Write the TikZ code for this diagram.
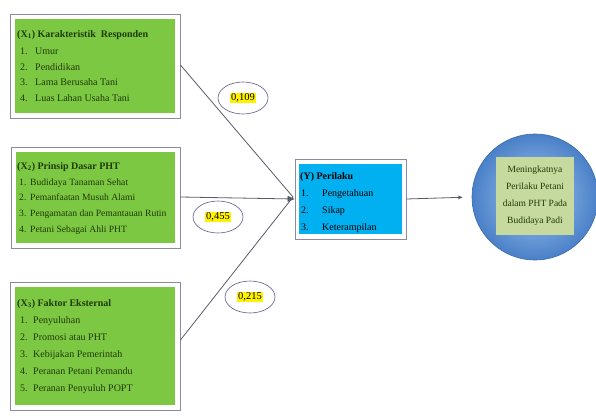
\documentclass[tikz,border=0pt]{standalone}
\usepackage{fontspec}
\setmainfont{Liberation Serif}
\usetikzlibrary{shapes.geometric,arrows.meta}
\definecolor{boxgreen}{HTML}{7DC843}
\definecolor{boxblue}{HTML}{00B0F0}
\definecolor{txtgreen}{HTML}{1E3A08}
\definecolor{framegray}{HTML}{8A8A9E}
\definecolor{linegray}{HTML}{5A5A66}
\definecolor{ellborder}{HTML}{5A5A8A}
\definecolor{circin}{HTML}{A2C8F0}
\definecolor{circout}{HTML}{4A80C8}
\definecolor{innergreen}{HTML}{C6D99E}
\begin{document}
\begin{tikzpicture}[x=1pt,y=-1pt,
  frame/.style={draw=framegray, line width=0.9pt, fill=white, inner sep=0pt},
  lbl/.style={anchor=base west, inner sep=0pt, font=\fontsize{10}{11}\selectfont, text=txtgreen},
  ttl/.style={lbl, font=\fontsize{10}{11}\selectfont\bfseries},
  sml/.style={font=\fontsize{9.6}{11}\selectfont},
  conn/.style={draw=linegray, line width=0.8pt},
  coef/.style={ellipse, draw=ellborder, line width=0.6pt, minimum width=50pt, minimum height=32pt, inner sep=0pt},
  hl/.style={fill=yellow, inner sep=1pt, font=\fontsize{10.5}{11}\selectfont}
]
\useasboundingbox (0,0) rectangle (596,415);

% Box X1
\node[frame, minimum width=170pt, minimum height=104pt] (x1) at (95,66) {};
\fill[boxgreen] ([shift={(5,5)}]x1.north west) rectangle ([shift={(-5,-5)}]x1.south east);
\node[ttl] (x1t) at (17,37) {(X\textsubscript{1}) Karakteristik\ \ Responden};
\node[lbl] (x1n1) at (20,54) {1.}; \node[lbl] (x1a) at (35,54) {Umur};
\node[lbl] (x1n2) at (20,70) {2.}; \node[lbl] (x1b) at (35,70) {Pendidikan};
\node[lbl] (x1n3) at (20,85) {3.}; \node[lbl] (x1c) at (35,85) {Lama Berusaha Tani};
\node[lbl] (x1n4) at (20,101) {4.}; \node[lbl] (x1d) at (35,101) {Luas Lahan Usaha Tani};

% Box X2
\node[frame, minimum width=169pt, minimum height=101pt] (x2) at (95.5,197.5) {};
\fill[boxgreen] ([shift={(5,5)}]x2.north west) rectangle ([shift={(-5,-5)}]x2.south east);
\node[ttl] (x2t) at (17,169) {(X\textsubscript{2}) Prinsip Dasar PHT};
\node[lbl, sml] (x2n1) at (19,185) {1.}; \node[lbl, sml] (x2a) at (30,185) {Budidaya Tanaman Sehat};
\node[lbl, sml] (x2n2) at (19,200) {2.}; \node[lbl, sml] (x2b) at (30,200) {Pemanfaatan Musuh Alami};
\node[lbl, sml] (x2n3) at (19,216) {3.}; \node[lbl, sml] (x2c) at (30,216) {Pengamatan dan Pemantauan Rutin};
\node[lbl, sml] (x2n4) at (19,232) {4.}; \node[lbl, sml] (x2d) at (30,232) {Petani Sebagai Ahli PHT};

% Box X3
\node[frame, minimum width=170pt, minimum height=128pt] (x3) at (95,346) {};
\fill[boxgreen] ([shift={(5,5)}]x3.north west) rectangle ([shift={(-5,-5)}]x3.south east);
\node[ttl] (x3t) at (17,306) {(X\textsubscript{3}) Faktor Eksternal};
\node[lbl] (x3n1) at (20,323) {1.}; \node[lbl] (x3a) at (33,323) {Penyuluhan};
\node[lbl] (x3n2) at (20,340) {2.}; \node[lbl] (x3b) at (33,340) {Promosi atau PHT};
\node[lbl] (x3n3) at (20,357) {3.}; \node[lbl] (x3c) at (33,357) {Kebijakan Pemerintah};
\node[lbl] (x3n4) at (20,374) {4.}; \node[lbl] (x3d) at (33,374) {Peranan Petani Pemandu};
\node[lbl] (x3n5) at (20,391) {5.}; \node[lbl] (x3e) at (33,391) {Peranan Penyuluh POPT};

% Box Y
\node[frame, minimum width=111pt, minimum height=80pt] (y) at (350.5,199) {};
\fill[boxblue] ([shift={(4,5)}]y.north west) rectangle ([shift={(-4,-5)}]y.south east);
\node[ttl, text=black] (yt) at (300,179) {(Y) Perilaku};
\node[lbl, text=black] (yn1) at (301,196) {1.}; \node[lbl, text=black] (ya) at (322,196) {Pengetahuan};
\node[lbl, text=black] (yn2) at (301,213) {2.}; \node[lbl, text=black] (yb) at (322,213) {Sikap};
\node[lbl, text=black] (yn3) at (301,230) {3.}; \node[lbl, text=black] (yc) at (322,230) {Keterampilan};

% Outcome circle
\node[circle, minimum size=126pt, inner sep=0pt, draw=circout!85!black, line width=0.6pt,
      inner color=circin, outer color=circout] (out) at (535,197) {};
\node[fill=innergreen, minimum width=78pt, minimum height=78pt, inner sep=0pt,
      align=center, text=txtgreen, font=\fontsize{9.5}{17}\selectfont] (outt) at (535,196)
  {Meningkatnya\\Perilaku Petani\\dalam PHT Pada\\Budidaya Padi};

% Connectors
\coordinate (m) at (293,197);
\draw[conn] (x1.east |- 0,65) -- (m);
\draw[conn] (x3.east |- 0,340) -- (m);
\draw[conn, -{Triangle[length=7pt,width=6pt]}] (x2.east |- m) -- (y.west);
\draw[conn, -{Stealth[length=5pt,width=4pt]}, shorten >=9pt] (y.east) -- (out.west);

% Coefficients
\node[coef] (c1) at (243,98) {};
\node[hl] (c1t) at (c1) {0,109};
\node[coef] (c2) at (218,217) {};
\node[hl] (c2t) at (c2) {0,455};
\node[coef] (c3) at (250,297) {};
\node[hl] (c3t) at (c3) {0,215};
\end{tikzpicture}
\end{document}
